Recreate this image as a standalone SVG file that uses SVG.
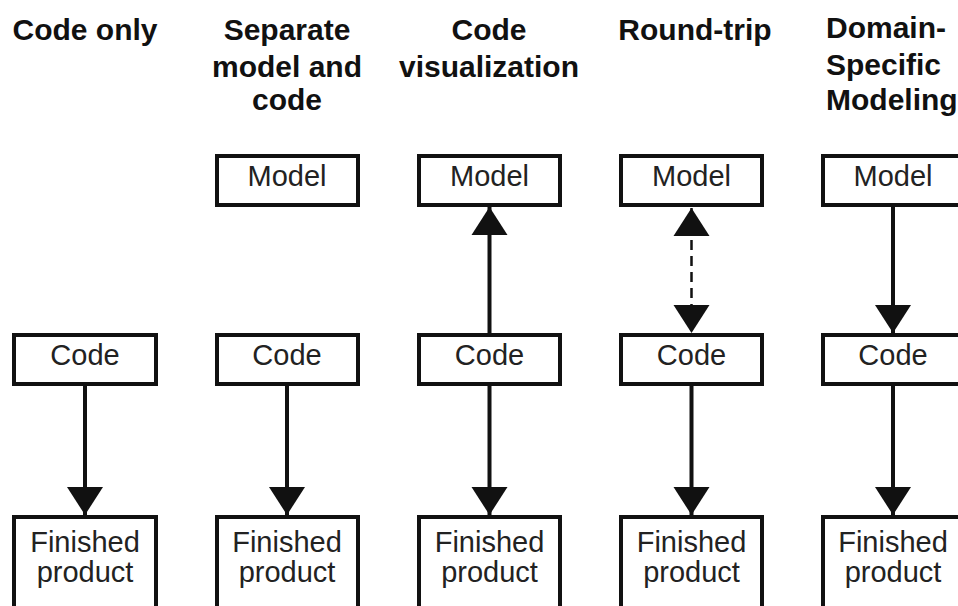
<svg xmlns="http://www.w3.org/2000/svg" width="958" height="606" viewBox="0 0 958 606">
<style>
.title{font-family:"Liberation Sans",Arial,sans-serif;font-weight:bold;font-size:30px;fill:#111;text-anchor:middle}
.box{fill:#fff;stroke:#111;stroke-width:4}
.lbl{font-family:"Liberation Sans",Arial,sans-serif;font-size:29px;fill:#222;text-anchor:middle}
.conn{stroke:#111;stroke-width:4;fill:none}
.dash{stroke:#111;stroke-width:2.5;fill:none;stroke-dasharray:10 6}
</style>
<defs>
<marker id="head" markerUnits="userSpaceOnUse" markerWidth="30" markerHeight="38" viewBox="0 0 30 38" refX="28" refY="19" orient="auto-start-reverse">
<path d="M0,1 L28,19 L0,37 z" fill="#111"/>
</marker>
</defs>
<rect width="958" height="606" fill="#fff"/>

<g id="titles">
<text class="title" x="85" y="40">Code only</text>
<text class="title" x="287" y="40">Separate</text>
<text class="title" x="287" y="77">model and</text>
<text class="title" x="287" y="110">code</text>
<text class="title" x="489" y="40">Code</text>
<text class="title" x="489" y="77">visualization</text>
<text class="title" x="695" y="40">Round-trip</text>
<text class="title" x="826" y="38" style="text-anchor:start">Domain-</text>
<text class="title" x="826" y="75" style="text-anchor:start">Specific</text>
<text class="title" x="826" y="110" style="text-anchor:start">Modeling</text>
</g>

<g id="connectors">
<line class="conn" x1="85" y1="386" x2="85" y2="515" marker-end="url(#head)"/>
<line class="conn" x1="287" y1="386" x2="287" y2="515" marker-end="url(#head)"/>
<line class="conn" x1="489.5" y1="333" x2="489.5" y2="207" marker-end="url(#head)"/>
<line class="conn" x1="489.5" y1="386" x2="489.5" y2="515" marker-end="url(#head)"/>
<line class="dash" x1="691.5" y1="208" x2="691.5" y2="333" marker-start="url(#head)" marker-end="url(#head)"/>
<line class="conn" x1="691.5" y1="386" x2="691.5" y2="515" marker-end="url(#head)"/>
<line class="conn" x1="893" y1="207" x2="893" y2="333" marker-end="url(#head)"/>
<line class="conn" x1="893" y1="386" x2="893" y2="515" marker-end="url(#head)"/>
</g>

<g id="col1-code"><rect class="box" x="14" y="335" width="142" height="49"/><text class="lbl" x="85" y="365">Code</text></g>
<g id="col1-product"><rect class="box" x="14" y="517" width="142" height="100"/><text class="lbl" x="85" y="552">Finished</text><text class="lbl" x="85" y="582">product</text></g>

<g id="col2-model"><rect class="box" x="217" y="156" width="141" height="49"/><text class="lbl" x="287" y="186">Model</text></g>
<g id="col2-code"><rect class="box" x="217" y="335" width="141" height="49"/><text class="lbl" x="287" y="365">Code</text></g>
<g id="col2-product"><rect class="box" x="217" y="517" width="141" height="100"/><text class="lbl" x="287" y="552">Finished</text><text class="lbl" x="287" y="582">product</text></g>

<g id="col3-model"><rect class="box" x="419" y="156" width="141" height="49"/><text class="lbl" x="489.5" y="186">Model</text></g>
<g id="col3-code"><rect class="box" x="419" y="335" width="141" height="49"/><text class="lbl" x="489.5" y="365">Code</text></g>
<g id="col3-product"><rect class="box" x="419" y="517" width="141" height="100"/><text class="lbl" x="489.5" y="552">Finished</text><text class="lbl" x="489.5" y="582">product</text></g>

<g id="col4-model"><rect class="box" x="621" y="156" width="141" height="49"/><text class="lbl" x="691.5" y="186">Model</text></g>
<g id="col4-code"><rect class="box" x="621" y="335" width="141" height="49"/><text class="lbl" x="691.5" y="365">Code</text></g>
<g id="col4-product"><rect class="box" x="621" y="517" width="141" height="100"/><text class="lbl" x="691.5" y="552">Finished</text><text class="lbl" x="691.5" y="582">product</text></g>

<g id="col5-model"><rect class="box" x="823" y="156" width="141" height="49"/><text class="lbl" x="893" y="186">Model</text></g>
<g id="col5-code"><rect class="box" x="823" y="335" width="141" height="49"/><text class="lbl" x="893" y="365">Code</text></g>
<g id="col5-product"><rect class="box" x="823" y="517" width="141" height="100"/><text class="lbl" x="893" y="552">Finished</text><text class="lbl" x="893" y="582">product</text></g>
</svg>
